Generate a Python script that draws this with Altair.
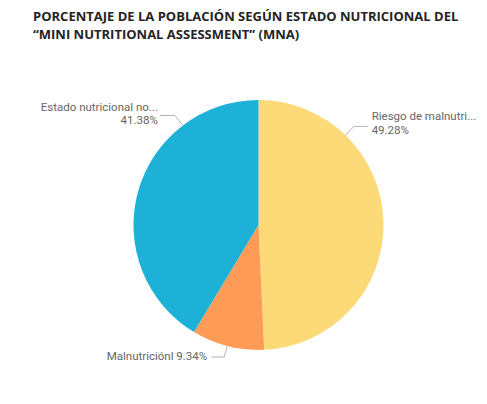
import math
import altair as alt
import pandas as pd

# ---- data ----
categories = ["Riesgo de malnutrición", "Malnutriciónl", "Estado nutricional normal"]
short_labels = ["Riesgo de malnutri...", "Malnutriciónl", "Estado nutricional no..."]
values = [49.28, 9.34, 41.38]
colors = ["#FDDA78", "#FE9B56", "#1DB1D7"]

title_lines = ["PORCENTAJE DE LA POBLACIÓN SEGÚN ESTADO NUTRICIONAL DEL",
               "“MINI NUTRITIONAL ASSESSMENT” (MNA)"]

# ---- layout (pixels within the view) ----
W, H = 471, 388
CX, CY, R = 250.5, 217.0, 125.0
# label anchor angle on the pie edge (deg, clockwise from top) and leader geometry
label_angles = [44.2, 194.5, 322.8]
elbows = [(8, -9), (-3, 11), (-8, -10)]        # offset from edge point to elbow
tails = [(14, 0), (-13, 0), (-15, 0)]          # horizontal tail from elbow

df = pd.DataFrame({"cat": categories, "value": values, "ord": [0, 1, 2]})

line_rows, text_rows = [], []
for i, (cat, ang) in enumerate(zip(categories, label_angles)):
    a = math.radians(ang)
    x0 = CX + R * math.sin(a)
    y0 = CY - R * math.cos(a)
    x1, y1 = x0 + elbows[i][0], y0 + elbows[i][1]
    x2, y2 = x1 + tails[i][0], y1 + tails[i][1]
    for k, (px, py) in enumerate([(x0, y0), (x1, y1), (x2, y2)]):
        line_rows.append({"cat": cat, "k": k, "px": px, "py": py})
    pct = f"{values[i]:.2f}%"
    if i == 0:  # right side, two lines, left aligned
        text_rows.append({"t": short_labels[i], "px": x2 + 4, "py": y2 - 9, "al": "left"})
        text_rows.append({"t": pct, "px": x2 + 4, "py": y2 + 5, "al": "left"})
    elif i == 2:  # left side, two lines, right aligned
        text_rows.append({"t": short_labels[i], "px": x2 - 2, "py": y2 - 7, "al": "right"})
        text_rows.append({"t": pct, "px": x2 - 2, "py": y2 + 6, "al": "right"})
    else:  # single line
        text_rows.append({"t": f"{short_labels[i]} {pct}", "px": x2 - 4, "py": y2, "al": "right"})

lines_df = pd.DataFrame(line_rows)
text_df = pd.DataFrame(text_rows)

pie = alt.Chart(df).mark_arc(radius=R).encode(
    theta=alt.Theta("value:Q", stack=True),
    order=alt.Order("ord:Q"),
    color=alt.Color("cat:N", scale=alt.Scale(domain=categories, range=colors), legend=None),
    x=alt.value(CX),
    y=alt.value(CY),
)

leaders = alt.Chart(lines_df).mark_line(color="#B3B3B3", strokeWidth=1).encode(
    x=alt.X("px:Q", scale=None, axis=None),
    y=alt.Y("py:Q", scale=None, axis=None),
    detail="cat:N",
    order="k:Q",
)

def label_layer(align):
    sub = text_df[text_df["al"] == align]
    return alt.Chart(sub).mark_text(
        align=align, baseline="middle", font="Roboto", fontSize=11.5, color="#666666"
    ).encode(
        x=alt.X("px:Q", scale=None, axis=None),
        y=alt.Y("py:Q", scale=None, axis=None),
        text="t:N",
    )

title_df = pd.DataFrame({"t": title_lines, "py": [9, 27]})
title = alt.Chart(title_df).mark_text(
    align="left", baseline="middle", font="Open Sans", fontSize=13,
    fontWeight="bold", color="#252423", x=25
).encode(
    y=alt.Y("py:Q", scale=None, axis=None),
    text="t:N",
)

chart = alt.layer(pie, leaders, label_layer("left"), label_layer("right"), title).properties(
    width=W, height=H, autosize=alt.AutoSizeParams(type="none"), padding=0
).configure(background="white").configure_view(stroke=None, strokeWidth=0)

chart.save("out.html", embed_options={"renderer": "svg", "actions": False})
